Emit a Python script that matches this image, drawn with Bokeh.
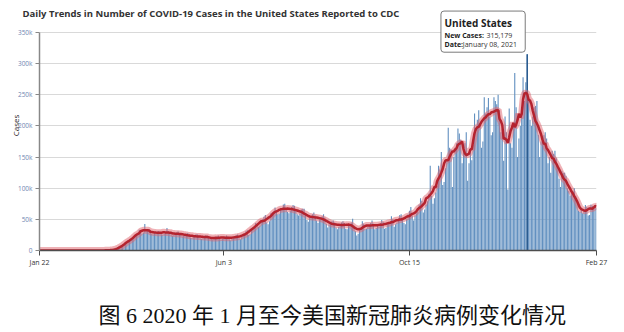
import numpy as np
import pandas as pd
from bokeh.plotting import figure
from bokeh.models import Range1d, FixedTicker, Label, ColumnDataSource, CDSView, IndexFilter
from bokeh.embed import file_html
from bokeh.resources import INLINE

# ---------------- data ----------------
start_date = "2020-01-22"
end_date = "2021-02-27"

# daily new cases (thousands), one row per week, Wed..Tue
cases_k = [
    0, 0, 0, 0, 0, 0, 0,                      # Jan 22
    0, 0, 0, 0, 0, 0, 0,                      # Jan 29
    0, 0, 0, 0, 0, 0, 0,                      # Feb 5
    0, 0, 0, 0, 0, 0, 0,                      # Feb 12
    0, 0, 0, 0, 0, 0, 0,                      # Feb 19
    0, 0, 0.01, 0.01, 0.02, 0.02, 0.03,       # Feb 26
    0.04, 0.06, 0.08, 0.1, 0.12, 0.2, 0.3,    # Mar 4
    0.4, 0.5, 0.6, 0.8, 0.9, 1.2, 1.6,        # Mar 11
    2.4, 3.8, 5.2, 6.8, 8.0, 9.5, 11.0,       # Mar 18
    12.5, 15.0, 17.5, 19.0, 18.0, 19.5, 22.0, # Mar 25
    25.0, 28.0, 33.5, 31.0, 27.0, 29.0, 42.5, # Apr 1
    31.0, 33.0, 34.0, 32.0, 27.0, 26.0, 27.5, # Apr 8
    29.0, 30.5, 31.5, 30.0, 26.0, 25.5, 27.0, # Apr 15
    28.5, 36.0, 31.0, 29.5, 26.0, 24.0, 25.0, # Apr 22
    27.0, 29.0, 30.5, 28.0, 25.0, 23.0, 23.5, # Apr 29
    25.5, 27.0, 28.0, 26.0, 21.0, 20.0, 21.5, # May 6
    22.5, 26.0, 25.5, 24.0, 19.5, 19.0, 21.0, # May 13
    22.0, 24.5, 24.0, 23.0, 19.0, 18.0, 17.5, # May 20
    19.0, 21.0, 23.0, 24.0, 19.5, 17.5, 19.0, # May 27
    20.5, 22.0, 24.0, 22.5, 18.0, 16.5, 18.5, # Jun 3
    21.0, 23.0, 25.0, 25.5, 19.5, 18.0, 22.0, # Jun 10
    24.0, 27.0, 31.0, 32.5, 25.0, 26.0, 33.0, # Jun 17
    37.0, 39.0, 44.0, 43.0, 38.0, 40.0, 46.0, # Jun 24
    50.0, 54.0, 57.0, 45.0, 42.0, 47.0, 60.0, # Jul 1
    61.0, 63.0, 69.0, 64.0, 58.0, 59.0, 66.0, # Jul 8
    67.0, 74.0, 75.0, 66.0, 62.0, 60.0, 64.0, # Jul 15
    70.0, 73.0, 72.0, 65.0, 58.0, 56.0, 60.0, # Jul 22
    66.0, 67.0, 67.0, 60.0, 49.0, 46.0, 53.0, # Jul 29
    55.0, 58.0, 61.0, 56.0, 48.0, 44.0, 50.0, # Aug 5
    53.0, 55.0, 58.0, 53.0, 43.0, 37.0, 42.0, # Aug 12
    45.0, 47.0, 48.0, 45.0, 37.0, 34.0, 38.0, # Aug 19
    43.0, 45.0, 47.0, 44.0, 35.0, 34.0, 41.0, # Aug 26
    42.0, 45.0, 51.0, 40.0, 31.0, 24.0, 27.0, # Sep 2
    33.0, 37.0, 47.0, 43.0, 34.0, 35.0, 38.0, # Sep 9
    40.0, 44.0, 48.0, 43.0, 34.0, 36.0, 40.0, # Sep 16
    39.0, 44.0, 49.0, 46.0, 35.0, 36.0, 43.0, # Sep 23
    44, 46, 55, 50, 38, 42, 45,               # Sep 30
    51, 57, 58, 52, 44, 42, 50,               # Oct 7
    58, 64, 70, 56, 48, 56, 60,               # Oct 14
    62, 74, 84, 80, 61, 66, 74,               # Oct 21
    79, 91, 136, 88, 75, 84, 93,              # Oct 28
    104, 136, 130, 158, 105, 110, 132,        # Nov 4
    145, 197, 165, 162, 102, 150, 165,        # Nov 11
    172, 196, 188, 178, 140, 160, 172,        # Nov 18
    190, 112, 140, 160, 145, 170, 220,        # Nov 25
    190, 210, 225, 205, 165, 175, 246,        # Dec 2
    220, 230, 245, 215, 185, 190, 246,        # Dec 9
    240, 235, 250, 225, 190, 195, 144,        # Dec 16
    215, 190, 98, 228, 172, 165, 205,         # Dec 23
    285, 230, 150, 180, 200, 215, 278,        # Dec 30
    240, 270, 315.179, 245, 210, 200, 215,    # Jan 6
    230, 232, 240, 186, 150, 175, 180,        # Jan 13
    185, 190, 180, 140, 150, 125, 160,        # Jan 20
    155, 160, 148, 135, 115, 102, 128,        # Jan 27
    125, 125, 120, 100, 96, 88, 95,           # Feb 3
    95, 100, 88, 78, 64, 62, 66,              # Feb 10
    60, 63, 73, 70, 56, 57, 74,               # Feb 17
    72, 70, 73, 68,                           # Feb 24
]

x_tick_dates = ["2020-01-22", "2020-06-03", "2020-10-15", "2021-02-27"]
x_tick_labels = ["Jan 22", "Jun 3", "Oct 15", "Feb 27"]
y_ticks = [0, 50, 100, 150, 200, 250, 300, 350]
y_tick_labels = ["0", "50k", "100k", "150k", "200k", "250k", "300k", "350k"]

title_text = "Daily Trends in Number of COVID-19 Cases in the United States Reported to CDC"
y_title = "Cases"
caption_text = "图 6 2020 年 1 月至今美国新冠肺炎病例变化情况"
tip_title = "United States"
tip_date = "2021-01-08"
tip_key1, tip_val1 = "New Cases:", "315,179"
tip_key2, tip_val2 = "Date:", "January 08, 2021"

# ---------------- build ----------------
dates = pd.date_range(start_date, end_date, freq="D")
assert len(dates) == len(cases_k), (len(dates), len(cases_k))
xi = np.arange(len(dates))
cases = np.array(cases_k, dtype=float)
avg7 = pd.Series(cases).rolling(7, center=True, min_periods=1).mean().values

src = ColumnDataSource(dict(x=xi, cases=cases, avg=avg7))
pk = int(dates.get_loc(pd.Timestamp(tip_date)))
pv = float(cases[pk])
y_top = y_ticks[-1]

FONT = "Open Sans"

# plot frame reaches the canvas top (room for the tooltip); the y axis itself
# stops at its last tick, which sits 32 px below the top (218 px for 0..350k)
FRAME_H, AXIS_H = 250, 218
p = figure(width=624, height=332, output_backend="svg", toolbar_location=None,
           x_range=Range1d(0, len(dates) - 1),
           y_range=Range1d(0, y_top * FRAME_H / AXIS_H),
           min_border_left=39, min_border_right=28, min_border_top=0,
           min_border_bottom=332 - FRAME_H)
p.outline_line_color = None
p.background_fill_color = "white"
p.border_fill_color = "white"

# bars
p.vbar(x="x", top="cases", width=0.8, source=src, fill_color="#6290c0", line_color=None)
p.vbar(x="x", top="cases", width=1.0, source=src, view=CDSView(filter=IndexFilter([pk])),
       fill_color="#24558a", line_color=None)

# 7-day average line
p.line(x="x", y="avg", source=src, line_color="#e0646e", line_alpha=0.5, line_width=7)
p.line(x="x", y="avg", source=src, line_color="#b4232f", line_width=2.5)

# axes
xt = [int(dates.get_loc(pd.Timestamp(d))) for d in x_tick_dates]
p.xaxis.ticker = FixedTicker(ticks=xt)
p.xaxis.major_label_overrides = dict(zip(xt, x_tick_labels))
p.xaxis.minor_tick_line_color = None
p.xaxis.major_tick_in = 0
p.xaxis.major_tick_out = 5
p.xaxis.major_tick_line_color = "#4d4d4d"
p.xaxis.axis_line_color = "#4d4d4d"
p.xaxis.axis_line_width = 1.5
p.xaxis.major_label_text_font = FONT
p.xaxis.major_label_text_font_size = "7px"
p.xaxis.major_label_text_color = "#333333"
p.xaxis.major_label_standoff = 2

p.yaxis.ticker = FixedTicker(ticks=y_ticks)
p.yaxis.bounds = (0, y_top)
p.yaxis.major_label_overrides = dict(zip(y_ticks, y_tick_labels))
p.yaxis.minor_tick_line_color = None
p.yaxis.major_tick_in = 0
p.yaxis.major_tick_out = 4
p.yaxis.major_tick_line_color = "#888888"
p.yaxis.axis_line_color = "#888888"
p.yaxis.axis_line_width = 1.5
p.yaxis.major_label_text_font = FONT
p.yaxis.major_label_text_font_size = "6.5px"
p.yaxis.major_label_text_color = "#6f86b3"
p.yaxis.major_label_standoff = 3

p.xgrid.visible = False
p.ygrid.ticker = FixedTicker(ticks=y_ticks)
p.ygrid.grid_line_color = "#d9d9d9"
p.ygrid.grid_line_width = 1.2

# main title (anchored at the top-left corner of the axes, offset in pixels)
p.add_layout(Label(x=0, y=y_top, text=title_text, x_offset=-17, y_offset=19,
                   text_align="left", text_baseline="middle", text_font=FONT,
                   text_font_size="9.5px", text_font_style="bold", text_color="#333333"), "below")

# y-axis title
p.add_layout(Label(x=0, y=0, text=y_title, x_offset=-24, y_offset=125, angle=90,
                   angle_units="deg", text_align="center", text_baseline="middle",
                   text_font=FONT, text_font_size="8px", text_color="#222222"), "left")

# caption
p.add_layout(Label(x=0, y=0, text=caption_text, x_offset=59, y_offset=-65,
                   text_align="left", text_baseline="middle",
                   text_font="'Liberation Serif', 'Noto Sans CJK SC'",
                   text_font_size="22px", text_color="#111111"), "below")

# tooltip
p.add_layout(Label(x=pk, y=pv, text=" ", anchor="bottom_right", x_offset=-2, y_offset=2,
                   text_font_size="1px", padding=(42, 20), border_radius=3,
                   background_fill_color="white", background_fill_alpha=1.0,
                   border_line_color="#7a7a7a", border_line_width=1))
tip_items = [
    (tip_title, -82.7, 30.7, "10px", "bold", "#222222"),
    (tip_key1, -82.7, 18.7, "7px", "bold", "#222222"),
    (tip_val1, -40.7, 18.7, "7px", "normal", "#333333"),
    (tip_key2, -82.7, 9.4, "7px", "bold", "#222222"),
    (tip_val2, -64.4, 9.4, "7px", "normal", "#333333"),
]
for txt, dx, dy, fs, fw, col in tip_items:
    p.add_layout(Label(x=pk, y=pv, text=txt, x_offset=dx, y_offset=dy,
                       text_align="left", text_baseline="middle", text_font=FONT,
                       text_font_size=fs, text_font_style=fw, text_color=col))

open("out.html", "w").write(file_html(p, INLINE))
